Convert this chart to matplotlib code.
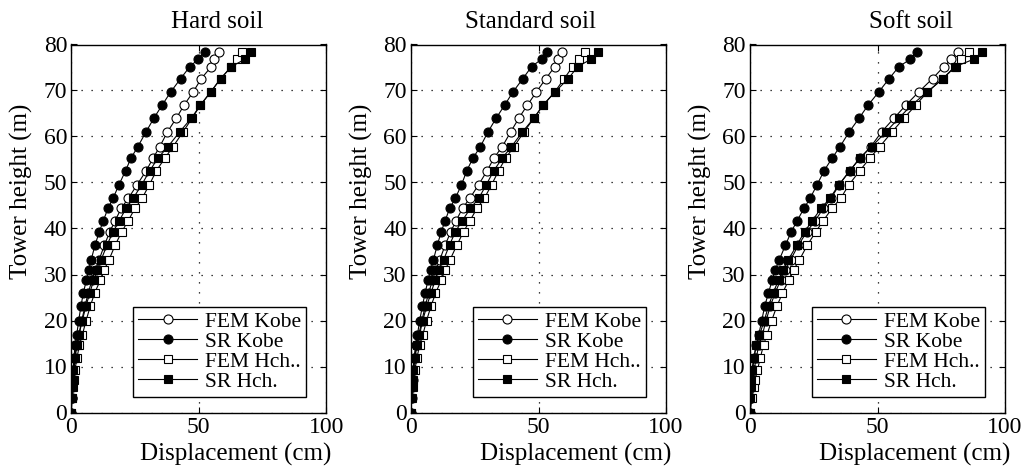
import matplotlib
matplotlib.use("Agg")
from matplotlib import pyplot as plt

plt.rcParams['font.family'] = ['Liberation Serif', 'DejaVu Serif']

# node heights of the tower (m)
height = [0, 3.1, 5.6, 7.1, 9.2, 11.8, 14.7, 16.8, 20.0, 23.2, 25.9, 28.8, 31.0, 33.2, 36.4,
          39.3, 41.6, 44.4, 46.6, 49.5, 52.6, 55.3, 57.8, 61.0, 64.0, 66.8, 69.7, 72.6, 75.2,
          76.8, 78.3]

titles = ["Hard soil", "Standard soil", "Soft soil"]
series_names = ["FEM Kobe", "SR Kobe", "FEM Hch..", "SR Hch."]

# displacements (cm), hard soil
hard_fem_kobe = [0, 0.2, 0.4, 0.6, 1.0, 1.5, 2.2, 2.9, 4.1, 5.4, 6.6, 8.1, 9.5, 10.9, 13.0, 15.1,
                 17.1, 19.6, 22.4, 25.8, 29.4, 32.1, 34.7, 37.7, 41.2, 44.2, 47.8, 51.0, 54.9,
                 56.0, 57.8]
hard_sr_kobe = [0, 0.1, 0.3, 0.4, 0.7, 1.0, 1.5, 2.1, 2.9, 3.8, 4.7, 5.9, 6.8, 7.8, 9.3, 11.0,
                12.5, 14.4, 16.4, 18.7, 21.3, 23.4, 26.1, 29.3, 32.4, 35.6, 39.0, 42.9, 46.5,
                49.8, 52.3]
hard_fem_hch = [0, 0.3, 0.6, 0.9, 1.4, 2.2, 3.2, 4.3, 5.8, 7.5, 9.1, 11.4, 12.9, 14.8, 17.2,
                19.8, 22.2, 25.0, 27.8, 30.6, 33.4, 36.7, 39.9, 43.8, 47.4, 50.6, 54.7, 58.6,
                62.8, 64.8, 67.0]
hard_sr_hch = [0, 0.1, 0.3, 0.5, 0.8, 1.3, 2.1, 3.0, 4.3, 5.8, 7.2, 8.8, 10.2, 11.7, 14.0, 16.4,
               18.7, 21.5, 24.3, 27.6, 30.8, 34.0, 37.9, 42.5, 47.1, 50.6, 54.7, 58.6, 62.8,
               68.1, 70.4]

# standard soil
std_fem_kobe = [0, 0.2, 0.4, 0.6, 1.0, 1.6, 2.3, 3.0, 4.3, 5.6, 6.9, 8.4, 9.8, 11.3, 13.4, 15.6,
                17.6, 20.2, 23.1, 26.5, 29.9, 32.5, 35.8, 39.1, 42.3, 45.6, 49.2, 52.9, 56.4,
                57.7, 59.4]
std_sr_kobe = [0, 0.1, 0.3, 0.5, 0.8, 1.2, 1.8, 2.5, 3.4, 4.5, 5.5, 6.7, 7.7, 8.8, 10.3, 11.9,
               13.3, 15.2, 17.4, 19.8, 21.9, 24.3, 27.2, 30.2, 33.4, 36.7, 40.0, 43.9, 47.3,
               51.2, 53.5]
std_fem_hch = [0, 0.3, 0.6, 0.9, 1.5, 2.3, 3.4, 4.6, 6.1, 7.9, 9.6, 11.9, 13.4, 15.3, 18.0, 20.6,
               23.0, 25.9, 28.8, 31.6, 34.4, 37.1, 40.4, 44.3, 48.2, 51.8, 56.4, 60.1, 63.4,
               65.8, 68.2]
std_sr_hch = [0, 0.1, 0.3, 0.5, 0.9, 1.4, 2.2, 3.3, 4.6, 6.2, 7.8, 9.5, 10.8, 12.8, 15.1, 17.4,
              20.0, 23.3, 26.6, 29.5, 32.5, 35.8, 39.4, 43.7, 48.2, 51.8, 56.5, 61.7, 65.4,
              70.6, 73.5]

# soft soil
soft_fem_kobe = [0, 0.3, 0.6, 1.0, 1.6, 2.4, 3.5, 4.8, 6.3, 8.0, 9.8, 12.0, 13.9, 15.9, 19.0,
                 22.3, 25.4, 28.8, 31.8, 35.0, 39.2, 43.1, 47.4, 51.6, 56.5, 61.1, 66.2, 71.6,
                 76.0, 79.0, 81.6]
soft_sr_kobe = [0, 0.2, 0.4, 0.7, 1.0, 1.6, 2.4, 3.4, 4.6, 5.8, 7.2, 8.7, 9.9, 11.5, 13.9, 16.2,
                18.4, 21.2, 23.6, 26.3, 29.1, 32.2, 35.3, 38.9, 42.8, 46.3, 50.5, 54.6, 58.4,
                62.9, 65.3]
soft_fem_hch = [0, 0.8, 1.5, 2.0, 2.9, 4.0, 5.3, 6.6, 8.5, 10.6, 12.7, 15.2, 17.1, 19.4, 22.5,
                25.8, 28.6, 32.2, 35.6, 38.8, 43.1, 47.0, 50.9, 55.7, 60.4, 65.0, 69.6, 75.7,
                80.3, 82.9, 85.8]
soft_sr_hch = [0, 0.1, 0.3, 0.5, 0.8, 1.4, 2.5, 3.7, 5.6, 7.3, 9.0, 11.2, 13.0, 15.0, 18.4, 21.4,
               24.3, 27.9, 31.4, 34.8, 39.2, 43.1, 47.7, 53.3, 58.4, 63.3, 69.6, 75.7, 80.6,
               87.7, 91.1]

panels = [
    [hard_fem_kobe, hard_sr_kobe, hard_fem_hch, hard_sr_hch],
    [std_fem_kobe, std_sr_kobe, std_fem_hch, std_sr_hch],
    [soft_fem_kobe, soft_sr_kobe, soft_fem_hch, soft_sr_hch],
]

styles = [("o", "white"), ("o", "black"), ("s", "white"), ("s", "black")]

fig = plt.figure(figsize=(10.27, 4.66), dpi=100)
lefts = [71.3 / 1027, 411 / 1027, 750 / 1027]
title_x = [0.571, 0.469, 0.63]

for i in range(3):
    ax = fig.add_axes([lefts[i], 53.5 / 466, 255 / 1027, 368 / 466])
    for data, name, (mk, fc) in zip(panels[i], series_names, styles):
        ax.plot(data, height, color="black", lw=0.8, marker=mk, markersize=6.5 if mk == "o" else 6,
                markerfacecolor=fc, markeredgecolor="black", markeredgewidth=0.8, label=name)
    ax.set_xlim(0, 100)
    ax.set_ylim(0, 80)
    ax.set_xticks([0, 50, 100])
    ax.set_yticks(range(0, 81, 10))
    ax.tick_params(direction="in", length=4, width=0.8, labelsize=17, pad=3,
                   top=True, right=True)
    ax.grid(True, color="black", linestyle=(0, (1, 7)), linewidth=0.9)
    for sp in ax.spines.values():
        sp.set_linewidth(1.0)
    ax.set_xlabel("Displacement (cm)", fontsize=18, va="top")
    ax.xaxis.set_label_coords(0.645, -0.082)
    ax.set_ylabel("Tower height (m)", fontsize=18)
    ax.yaxis.set_label_coords(-0.15, 0.60)
    ax.text(title_x[i], 1.061, titles[i], transform=ax.transAxes, ha="center", va="center",
            fontsize=18)
    leg = ax.legend(loc="lower right", bbox_to_anchor=(0.921, 0.043), borderaxespad=0,
                    fontsize=15.5, fancybox=False, framealpha=1, edgecolor="black",
                    handlelength=2.75, handletextpad=0.37, labelspacing=0.0, borderpad=0.22)
    leg.get_frame().set_linewidth(1.0)

fig.savefig("out.png", dpi=100)
